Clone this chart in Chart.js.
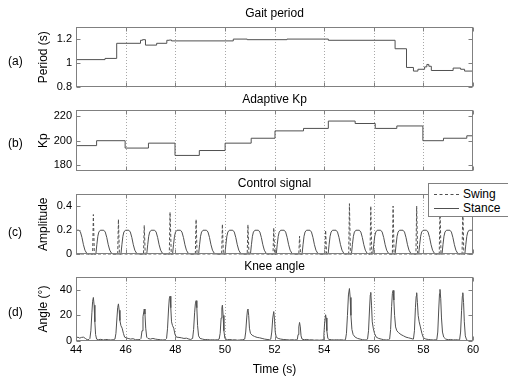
<!DOCTYPE html>
<html>
<head>
<meta charset="utf-8">
<script src="https://cdn.jsdelivr.net/npm/chart.js@4/dist/chart.umd.min.js"></script>
<style>
  html, body { margin: 0; padding: 0; background: #fff; }
  #wrap { position: relative; width: 508px; height: 378px; overflow: hidden; background: #fff;
          font-family: "Liberation Sans", Arial, sans-serif; color: #000; }
  canvas { position: absolute; left: 0; }
  .plabel { position: absolute; left: 8px; font-size: 12px; line-height: 14px; }
  #legend { position: absolute; left: 428px; top: 183px; width: 79px; height: 32px;
            background: #fff; border: 1px solid #808080; border-right: none; z-index: 10; font-size: 12px; }
  .lrow { position: absolute; left: 0; height: 14px; line-height: 14px; }
  .lline { position: absolute; left: 5px; width: 25px; top: 7px; height: 0; }
  .ltext { position: absolute; left: 34px; top: 0; }
</style>
</head>
<body>
<div id="wrap">
  <canvas id="cA" width="508" height="94" style="top:4px"></canvas>
  <canvas id="cB" width="508" height="92" style="top:90px"></canvas>
  <canvas id="cC" width="508" height="91" style="top:174px"></canvas>
  <canvas id="cD" width="508" height="121" style="top:257px"></canvas>
  <div class="plabel" style="top:54px">(a)</div>
  <div class="plabel" style="top:136px">(b)</div>
  <div class="plabel" style="top:225px">(c)</div>
  <div class="plabel" style="top:305px">(d)</div>
  <div id="legend">
    <div class="lrow" style="top:3px"><div class="lline" style="border-top:1px dashed #505050"></div><div class="ltext">Swing</div></div>
    <div class="lrow" style="top:17px"><div class="lline" style="border-top:1px solid #505050"></div><div class="ltext">Stance</div></div>
  </div>
</div>
<script>
// ---------------- data ----------------
const xTicks = [44, 46, 48, 50, 52, 54, 56, 58, 60];

const periodTicks = [0.8, 1, 1.2];
const periodTime = [44.0, 45.17, 45.64, 46.6, 46.68, 46.8, 47.25, 47.66, 47.76, 47.85, 50.34, 50.9, 52.5, 54.17,
                    56.86, 57.32, 57.6, 57.78, 58.05, 58.14, 58.22, 58.32, 59.2, 59.5, 59.66, 60.0];
const periodValue = [1.03, 1.04, 1.165, 1.19, 1.195, 1.15, 1.165, 1.19, 1.192, 1.185, 1.2, 1.195, 1.2, 1.19,
                     1.12, 0.965, 0.935, 0.95, 0.97, 0.99, 0.975, 0.94, 0.96, 0.95, 0.935, 0.935];

const kpTicks = [180, 200, 220];
const kpTime = [44.0, 44.83, 45.98, 46.92, 47.99, 48.97, 50.01, 51.06, 52.02, 53.17, 54.17, 55.25,
                56.06, 56.93, 57.98, 58.81, 59.75, 60.0];
const kpValue = [196, 200, 194, 198, 188, 192, 198, 202, 208, 210, 216, 214, 210, 212, 200, 202, 204, 204];

const ampTicks = [0, 0.2, 0.4];
const swingTime = [44.0,
  44.67, 44.70, 44.74,  45.68, 45.71, 45.75,  46.72, 46.75, 46.79,  47.76, 47.79, 47.84,
  48.81, 48.84, 48.88,  49.87, 49.90, 49.94,  50.90, 50.93, 50.97,  51.94, 51.97, 52.01,
  52.98, 53.01, 53.05,  54.03, 54.06, 54.10,  54.99, 55.02, 55.06,  55.85, 55.88, 55.92,
  56.75, 56.78, 56.82,  57.70, 57.73, 57.77,  58.64, 58.67, 58.71,  59.56, 59.59, 59.63, 60.0];
const swingValue = [0,
  0, 0.33, 0,  0, 0.29, 0,  0, 0.24, 0,  0, 0.35, 0,
  0, 0.29, 0,  0, 0.25, 0,  0, 0.245, 0,  0, 0.22, 0,
  0, 0.15, 0,  0, 0.20, 0,  0, 0.42, 0,  0, 0.40, 0,
  0, 0.40, 0,  0, 0.40, 0,  0, 0.41, 0,  0, 0.40, 0, 0];

const stanceTime = [
  44.00, 44.12, 44.18, 44.24, 44.30, 44.36, 44.43, 44.50,
  44.80, 44.84, 44.88, 44.92, 44.98, 45.12, 45.18, 45.24, 45.30, 45.36, 45.43, 45.50,
  45.81, 45.85, 45.89, 45.93, 45.99, 46.13, 46.19, 46.25, 46.31, 46.37, 46.44, 46.51,
  46.85, 46.89, 46.93, 46.97, 47.03, 47.17, 47.23, 47.29, 47.35, 47.41, 47.48, 47.55,
  47.89, 47.93, 47.97, 48.01, 48.07, 48.21, 48.27, 48.33, 48.39, 48.45, 48.52, 48.59,
  48.94, 48.98, 49.02, 49.06, 49.12, 49.26, 49.32, 49.38, 49.44, 49.50, 49.57, 49.64,
  50.00, 50.04, 50.08, 50.12, 50.18, 50.32, 50.38, 50.44, 50.50, 50.56, 50.63, 50.70,
  51.03, 51.07, 51.11, 51.15, 51.21, 51.35, 51.41, 51.47, 51.53, 51.59, 51.66, 51.73,
  52.07, 52.11, 52.15, 52.19, 52.25, 52.39, 52.45, 52.51, 52.57, 52.63, 52.70, 52.77,
  53.11, 53.15, 53.19, 53.23, 53.29, 53.43, 53.49, 53.55, 53.61, 53.67, 53.74, 53.81,
  54.16, 54.20, 54.24, 54.28, 54.34, 54.48, 54.54, 54.60, 54.66, 54.72, 54.79, 54.86,
  55.10, 55.14, 55.18, 55.22, 55.28, 55.42, 55.48, 55.54, 55.60, 55.66, 55.73, 55.80,
  55.96, 56.00, 56.04, 56.08, 56.14, 56.28, 56.34, 56.40, 56.46, 56.52, 56.59, 56.66,
  56.86, 56.90, 56.94, 56.98, 57.04, 57.18, 57.24, 57.30, 57.36, 57.42, 57.49, 57.56,
  57.81, 57.85, 57.89, 57.93, 57.99, 58.13, 58.19, 58.25, 58.31, 58.37, 58.44, 58.51,
  58.75, 58.79, 58.83, 58.87, 58.93, 59.07, 59.13, 59.19, 59.25, 59.31, 59.38, 59.45,
  59.67, 59.71, 59.75, 59.79, 59.85, 60.00];
const stanceValue = [
  0.2, 0.2, 0.185, 0.14, 0.08, 0.035, 0.01, 0,
  0, 0.08, 0.15, 0.185, 0.2, 0.2, 0.185, 0.14, 0.08, 0.035, 0.01, 0,
  0, 0.08, 0.15, 0.185, 0.2, 0.2, 0.185, 0.14, 0.08, 0.035, 0.01, 0,
  0, 0.08, 0.15, 0.185, 0.2, 0.2, 0.185, 0.14, 0.08, 0.035, 0.01, 0,
  0, 0.08, 0.15, 0.185, 0.2, 0.2, 0.185, 0.14, 0.08, 0.035, 0.01, 0,
  0, 0.08, 0.15, 0.185, 0.2, 0.2, 0.185, 0.14, 0.08, 0.035, 0.01, 0,
  0, 0.08, 0.15, 0.185, 0.2, 0.2, 0.185, 0.14, 0.08, 0.035, 0.01, 0,
  0, 0.08, 0.15, 0.185, 0.2, 0.2, 0.185, 0.14, 0.08, 0.035, 0.01, 0,
  0, 0.08, 0.15, 0.185, 0.2, 0.2, 0.185, 0.14, 0.08, 0.035, 0.01, 0,
  0, 0.08, 0.15, 0.185, 0.2, 0.2, 0.185, 0.14, 0.08, 0.035, 0.01, 0,
  0, 0.08, 0.15, 0.185, 0.2, 0.2, 0.185, 0.14, 0.08, 0.035, 0.01, 0,
  0, 0.08, 0.15, 0.185, 0.2, 0.2, 0.185, 0.14, 0.08, 0.035, 0.01, 0,
  0, 0.08, 0.15, 0.185, 0.2, 0.2, 0.185, 0.14, 0.08, 0.035, 0.01, 0,
  0, 0.08, 0.15, 0.185, 0.2, 0.2, 0.185, 0.14, 0.08, 0.035, 0.01, 0,
  0, 0.08, 0.15, 0.185, 0.2, 0.2, 0.185, 0.14, 0.08, 0.035, 0.01, 0,
  0, 0.08, 0.15, 0.185, 0.2, 0.2, 0.185, 0.14, 0.08, 0.035, 0.01, 0,
  0, 0.08, 0.15, 0.185, 0.2, 0.2];

const angleTicks = [0, 20, 40];
const kneeTime = [
  44.00, 44.08, 44.15, 44.22, 44.30, 44.38, 44.45, 44.52,
  44.56, 44.60, 44.64, 44.67, 44.70, 44.73, 44.76, 44.79, 44.83, 44.90, 45.00, 45.10, 45.20, 45.30, 45.40, 45.50,
  45.57, 45.61, 45.65, 45.68, 45.71, 45.74, 45.77, 45.81, 45.86, 45.91, 45.96, 46.02, 46.10, 46.20, 46.30, 46.40, 46.50, 46.58,
  46.62, 46.66, 46.70, 46.75, 46.78, 46.81, 46.85, 46.90, 47.00, 47.10, 47.20, 47.30, 47.40, 47.50, 47.60,
  47.65, 47.69, 47.73, 47.76, 47.79, 47.82, 47.85, 47.89, 47.94, 47.99, 48.05, 48.15, 48.25, 48.35, 48.45, 48.55, 48.62,
  48.70, 48.74, 48.78, 48.81, 48.84, 48.87, 48.90, 48.94, 49.00, 49.10, 49.20, 49.30, 49.40, 49.50, 49.60, 49.70,
  49.77, 49.81, 49.85, 49.88, 49.90, 49.93, 49.96, 50.00, 50.10, 50.20, 50.30, 50.40, 50.50, 50.60, 50.72,
  50.80, 50.84, 50.88, 50.91, 50.93, 50.96, 50.99, 51.03, 51.10, 51.20, 51.30, 51.40, 51.50, 51.60, 51.70, 51.80,
  51.85, 51.89, 51.93, 51.97, 52.00, 52.03, 52.07, 52.15, 52.25, 52.35, 52.50, 52.60, 52.70, 52.80, 52.90,
  52.92, 52.95, 52.98, 53.01, 53.04, 53.07, 53.11, 53.20, 53.30, 53.40, 53.50, 53.60, 53.70, 53.80, 53.90,
  53.96, 53.99, 54.02, 54.06, 54.08, 54.11, 54.15, 54.20, 54.30, 54.40, 54.50, 54.60, 54.70, 54.80,
  54.86, 54.90, 54.94, 54.98, 55.02, 55.05, 55.08, 55.12, 55.17, 55.25, 55.35, 55.45, 55.55, 55.65, 55.72,
  55.75, 55.79, 55.83, 55.86, 55.88, 55.91, 55.94, 55.98, 56.03, 56.10, 56.20, 56.30, 56.40, 56.50, 56.60,
  56.64, 56.68, 56.72, 56.75, 56.78, 56.81, 56.84, 56.88, 56.93, 57.00, 57.10, 57.20, 57.30, 57.40, 57.50, 57.58,
  57.60, 57.64, 57.68, 57.71, 57.73, 57.76, 57.79, 57.83, 57.88, 57.94, 58.00, 58.10, 58.20, 58.30, 58.40, 58.50,
  58.54, 58.58, 58.62, 58.65, 58.67, 58.70, 58.73, 58.77, 58.82, 58.90, 59.00, 59.10, 59.20, 59.30, 59.40,
  59.46, 59.50, 59.54, 59.57, 59.59, 59.62, 59.65, 59.69, 59.74, 59.80, 59.90, 60.00];
const kneeValue = [
  2.5, 3.0, 2.2, 2.8, 3.0, 2.0, 1.0, 1.2,
  2, 8, 22, 31, 34, 28, 15, 5, 1.5, 1.0, 1.3, 0.8, 1.2, 1.0, 0.8, 1.0,
  1.5, 6, 18, 26, 29, 24, 16, 12, 10, 6, 3, 2.5, 2, 1.5, 1.8, 1.0, 1.0, 1.2,
  2, 8, 19, 25, 21, 10, 3, 2, 1.5, 2, 1.5, 1.2, 1.0, 0.8, 1.0,
  2, 10, 25, 33, 35, 26, 15, 12, 10, 5, 3, 2.8, 2.5, 2.0, 2.2, 1.5, 1.2,
  2, 9, 22, 29, 31.5, 26, 12, 4, 2, 1.5, 1.0, 1.2, 0.8, 1.0, 0.8, 1.0,
  1.5, 6, 18, 26, 28, 20, 8, 2, 1.0, 1.2, 0.8, 1.0, 0.6, 0.8, 1.0,
  1.5, 7, 18, 24, 25, 20, 10, 6, 4.5, 3.5, 2.8, 2.5, 2, 1.5, 1.2, 1.0,
  1.5, 7, 18, 23, 17, 7, 3, 2, 1.5, 1.2, 1.0, 0.8, 1.0, 0.8, 1.0,
  1.2, 5, 11, 14.5, 11, 4, 1.5, 1.0, 1.2, 0.8, 1.0, 0.6, 0.8, 0.6, 0.8,
  1.0, 5, 14, 20.5, 18, 8, 2, 1.2, 1.0, 0.8, 1.0, 0.8, 1.0, 0.6,
  1.0, 6, 20, 36, 41, 34, 20, 9, 5, 3, 2, 1.5, 1.0, 0.8, 1.0,
  1.5, 8, 25, 36, 38, 28, 15, 10, 6, 3, 2, 1.5, 1.0, 0.8, 1.0,
  1.5, 9, 27, 37, 39.5, 32, 20, 11, 8, 6.5, 5, 4, 3, 2.5, 2, 1.5,
  1.5, 8, 26, 35, 37.7, 30, 20, 15, 11, 6, 2.5, 1.5, 1.2, 1.0, 0.8, 1.0,
  1.0, 7, 25, 37, 40.3, 33, 18, 7, 3, 1.5, 1.0, 1.2, 0.8, 1.0, 0.8,
  1.0, 7, 24, 35, 37.7, 30, 15, 4, 1.0, 0.3, 0.2, 0.2];

// ---------------- styling ----------------
const FONT = '"Liberation Sans", Arial, sans-serif';
const LINE = '#505050';
const FRAME = '#808080';
const GRID = '#a8a8a8';
Chart.defaults.font.family = FONT;
Chart.defaults.color = '#000';

const pts = (xs, ys) => xs.map((x, i) => ({ x, y: ys[i] }));

const matlabBox = {
  id: 'matlabBox',
  beforeDatasetsDraw(chart) {
    const { ctx, chartArea: a } = chart; const xs = chart.scales.x;
    ctx.save(); ctx.strokeStyle = GRID; ctx.lineWidth = 1; ctx.setLineDash([1, 2]);
    xTicks.forEach(v => {
      if (v <= xs.min || v >= xs.max) return;
      const px = Math.round(xs.getPixelForValue(v)) + 0.5;
      ctx.beginPath(); ctx.moveTo(px, a.top); ctx.lineTo(px, a.bottom); ctx.stroke();
    });
    ctx.restore();
  },
  afterDatasetsDraw(chart) {
    const { ctx, chartArea: a } = chart; const xs = chart.scales.x, ys = chart.scales.y;
    const L = Math.round(a.left) + 0.5, R = Math.round(a.right) - 0.5, T = Math.round(a.top) + 0.5, B = Math.round(a.bottom) - 0.5;
    ctx.save(); ctx.strokeStyle = FRAME; ctx.lineWidth = 1;
    ctx.strokeRect(L, T, R - L, B - T);
    ctx.beginPath();
    xTicks.forEach(v => {
      const px = Math.round(xs.getPixelForValue(v)) + 0.5;
      ctx.moveTo(px, B); ctx.lineTo(px, B - 4); ctx.moveTo(px, T); ctx.lineTo(px, T + 4);
    });
    ys.ticks.forEach(t => {
      const py = Math.round(ys.getPixelForValue(t.value)) + 0.5;
      ctx.moveTo(L, py); ctx.lineTo(L + 4, py); ctx.moveTo(R, py); ctx.lineTo(R - 4, py);
    });
    ctx.stroke(); ctx.restore();
  }
};

function makeChart(id, cfg) {
  const showX = !!cfg.xTitle;
  new Chart(document.getElementById(id), {
    type: 'line',
    data: { datasets: cfg.datasets },
    plugins: [matlabBox],
    options: {
      responsive: false, animation: false, devicePixelRatio: 1,
      layout: { padding: { left: 32, right: 35, top: 0, bottom: showX ? 0 : 8 } },
      elements: { point: { radius: 0 }, line: { borderWidth: 1, tension: 0 } },
      plugins: {
        legend: { display: false }, tooltip: { enabled: false },
        title: { display: true, text: cfg.title, fullSize: false, color: '#000',
                 font: { family: FONT, size: 12, weight: 'normal', lineHeight: 1 },
                 padding: { top: 4, bottom: cfg.titleGap } }
      },
      scales: {
        x: {
          type: 'linear', min: 44, max: 60,
          afterBuildTicks: s => { s.ticks = xTicks.map(v => ({ value: v })); },
          grid: { display: false, drawTicks: false }, border: { display: false },
          ticks: { display: showX, color: '#000', font: { family: FONT, size: 11 }, padding: 2,
                   maxRotation: 0, autoSkip: false, callback: v => String(v) },
          title: { display: showX, text: cfg.xTitle || '', color: '#000',
                   font: { family: FONT, size: 12 }, padding: { top: 0, bottom: 1 } },
          afterFit: s => { s.height = showX ? 37 : 0; }
        },
        y: {
          type: 'linear', min: cfg.yMin, max: cfg.yMax,
          afterBuildTicks: s => { s.ticks = cfg.yTicks.map(v => ({ value: v })); },
          grid: { display: false, drawTicks: false }, border: { display: false },
          ticks: { color: '#000', font: { family: FONT, size: 11 }, padding: 4, callback: v => String(v) },
          title: { display: true, text: cfg.yTitle, color: '#000', font: { family: FONT, size: 12 },
                   padding: { top: 4, bottom: 4 } },
          afterFit: s => { s.width = 44; }
        }
      }
    }
  });
}

makeChart('cA', {
  title: 'Gait period', titleGap: 7, yTitle: 'Period (s)', yMin: 0.8, yMax: 1.3, yTicks: periodTicks,
  datasets: [{ data: pts(periodTime, periodValue), borderColor: LINE, stepped: 'before' }]
});
makeChart('cB', {
  title: 'Adaptive Kp', titleGap: 4, yTitle: 'Kp', yMin: 175, yMax: 225, yTicks: kpTicks,
  datasets: [{ data: pts(kpTime, kpValue), borderColor: LINE, stepped: 'before' }]
});
makeChart('cC', {
  title: 'Control signal', titleGap: 4, yTitle: 'Amplitude', yMin: 0, yMax: 0.5, yTicks: ampTicks,
  datasets: [
    { label: 'Swing', data: pts(swingTime, swingValue), borderColor: LINE, borderDash: [3, 2] },
    { label: 'Stance', data: pts(stanceTime, stanceValue), borderColor: LINE }
  ]
});
makeChart('cD', {
  title: 'Knee angle', titleGap: 4, yTitle: 'Angle (°)', yMin: 0, yMax: 50, yTicks: angleTicks,
  xTitle: 'Time (s)',
  datasets: [{ data: pts(kneeTime, kneeValue), borderColor: LINE }]
});
</script>
</body>
</html>
